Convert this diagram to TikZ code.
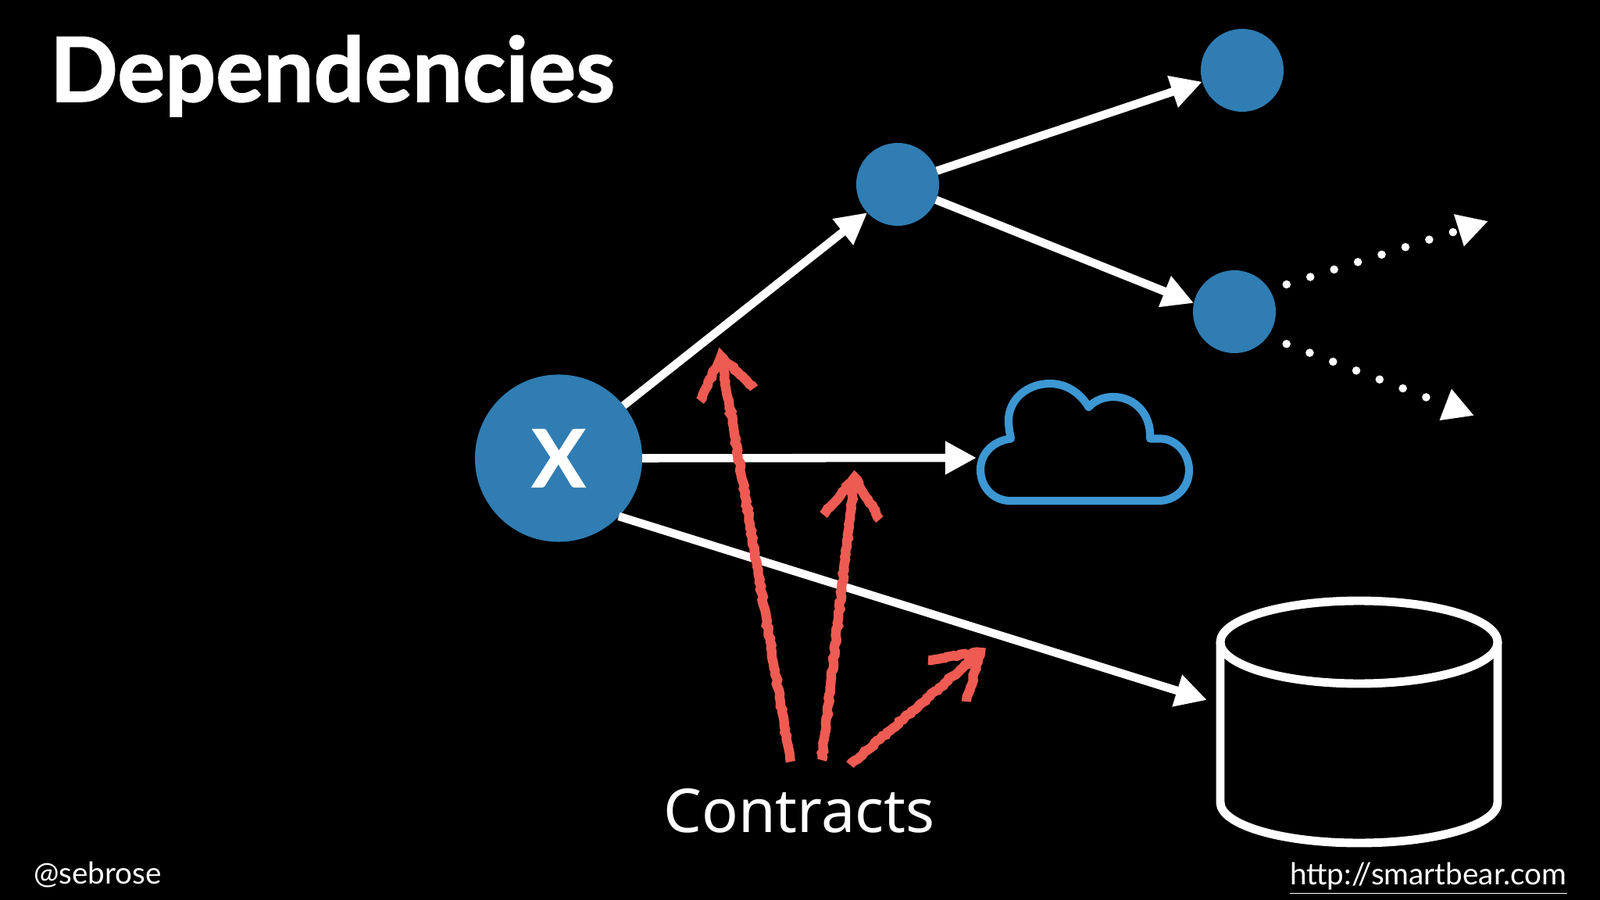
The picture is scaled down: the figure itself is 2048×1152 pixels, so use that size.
\documentclass[tikz,border=0pt]{standalone}
\usepackage{fontspec}
\setmainfont{Lato}
\newfontfamily\contractsfont{Noto Sans}
\newfontfamily\heavyfont{Lato}[UprightFont=*-Bold,FakeBold=1.4]
\usetikzlibrary{arrows.meta,decorations.pathmorphing}
\definecolor{nodeblue}{HTML}{2F7DB3}
\definecolor{cloudblue}{HTML}{3C97D3}
\definecolor{chalkred}{HTML}{EE5B52}
\begin{document}
\begin{tikzpicture}%
	[x=.01cm,y=-.01cm,
	dep/.style={inner sep=0pt,outer sep=0pt,circle,fill=nodeblue},
	edge/.style={color=white,line width=3pt,-{Triangle[length=11.4pt,width=11.4pt]}},
	dotedge/.style={color=white,line width=3pt,line cap=round,dash pattern=on 0pt off 9.07pt,-{Triangle[length=11.2pt,width=11.4pt]}},
	outline/.style={color=white,line width=3.1pt},
	chalk/.style={color=chalkred,line width=3.5pt,decorate,decoration={random steps,segment length=1.2pt,amplitude=.35pt}},
	label/.style={inner sep=0pt,outer sep=0pt,text=white,anchor=base west}]
	\fill[black] (0,0) rectangle (2048,1152);
	\useasboundingbox (0,0) rectangle (2048,1152);

	\node[label,font=\heavyfont\fontsize{32.5}{38}\selectfont] (title) at (64,130) {Dependencies};
	\node[label,font=\fontsize{11}{13}\selectfont] (handle) at (43,1131) {@sebrose};
	\node[label,font=\fontsize{11}{13}\selectfont] (url) at (1651,1132) {\underline{http://smartbear.com}};
	\node[label,font=\contractsfont\fontsize{22}{26}\selectfont,anchor=base] (contracts) at (1023,1065) {Contracts};

	\node[dep,minimum size=2.14cm,text=white,font=\heavyfont\fontsize{29}{34}\selectfont] (xnode) at (715,586.5) {X};
	\node[dep,minimum size=1.06cm] (hub) at (1149,236) {};
	\node[dep,minimum size=1.06cm] (topdep) at (1590,90) {};
	\node[dep,minimum size=1.06cm] (middep) at (1580,399) {};

	%cloud
	\draw[color=cloudblue,line width=2.9pt,line join=round] (1293,641) -- (1483,641)
		.. controls (1505,641) and (1522,624) .. (1522,602)
		.. controls (1522,580) and (1505,561.5) .. (1485,561.5) -- (1472,561.5)
		.. controls (1474,530) and (1452,508) .. (1425,508)
		.. controls (1412,508) and (1401,513) .. (1393.5,521)
		.. controls (1382,502) and (1364,491) .. (1344,491)
		.. controls (1314,491) and (1291,512) .. (1291,538)
		.. controls (1291,546) and (1292,552) .. (1294,561.5)
		.. controls (1272,564) and (1255,580) .. (1255,601)
		.. controls (1255,624) and (1272,641) .. (1293,641) -- cycle;
	\coordinate (cloudleft) at (1250,586);

	%database
	\draw[outline] (1739.5,822) ellipse [x radius=177.5,y radius=53];
	\draw[outline] (1562,822) -- (1562,1027)
		.. controls (1562,1056) and (1641,1079) .. (1739.5,1079)
		.. controls (1838,1079) and (1917,1056) .. (1917,1027) -- (1917,822);
	\coordinate (dbleft) at (1545,896);

	\draw[edge] (xnode.39) -- (hub.223);
	\draw[edge] (hub.19) -- (topdep.196);
	\draw[edge] (hub.-22) -- (middep.168);
	\draw[edge] (xnode.east) -- (cloudleft);
	\draw[edge] (xnode.-44) -- (dbleft);

	\coordinate (upend) at (1905,283);
	\coordinate (downend) at (1887,532);
	\draw[dotedge,shorten <=6.5pt] (middep.32) -- (upend);
	\draw[dotedge,shorten <=7.4pt] (middep.-37) -- (downend);

	%contract arrows
	\coordinate (tailone) at (1012,975);
	\coordinate (tipone) at (923,456);
	\coordinate (tailtwo) at (1052,973);
	\coordinate (tiptwo) at (1094,611);
	\coordinate (tailthree) at (1088,979);
	\coordinate (tipthree) at (1255,835);
	\draw[chalk] (tailone) -- (tipone);
	\draw[chalk] (896,513) -- (tipone) -- (965,497);
	\draw[chalk] (tailtwo) -- (tiptwo);
	\draw[chalk] (1054,659) -- (tiptwo) -- (1126,665);
	\draw[chalk] (tailthree) -- (tipthree);
	\draw[chalk] (1188,845) -- (tipthree) -- (1237,898);
\end{tikzpicture}
\end{document}
